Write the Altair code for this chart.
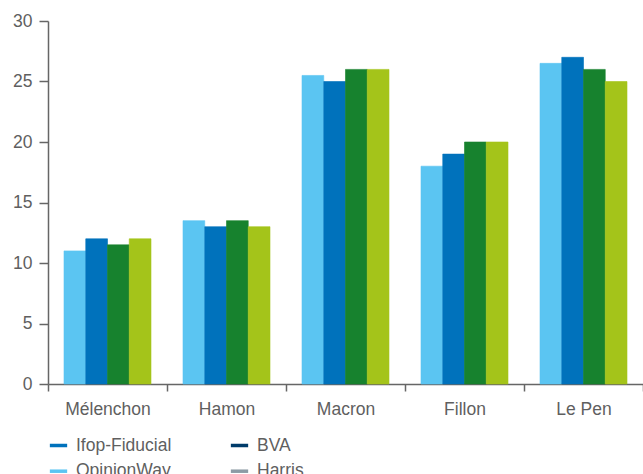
import altair as alt
import pandas as pd

candidates = ["Mélenchon", "Hamon", "Macron", "Fillon", "Le Pen"]
series = ["OpinionWay", "Ifop-Fiducial", "Série 3", "Série 4"]
opinionway = [11, 13.5, 25.5, 18, 26.5]
ifop = [12, 13, 25, 19, 27]
serie3 = [11.5, 13.5, 26, 20, 26]
serie4 = [12, 13, 26, 20, 25]

# legend entries in column order (column 1: Ifop-Fiducial, OpinionWay; column 2: BVA, Harris)
legend_names = ["Ifop-Fiducial", "OpinionWay", "BVA", "Harris"]
color_domain = ["Ifop-Fiducial", "BVA", "OpinionWay", "Harris", "Série 3", "Série 4"]
color_range = ["#0072BC", "#003B6A", "#5BC5F2", "#8C9BA5", "#17822E", "#A4C41A"]
y_ticks = [0, 5, 10, 15, 20, 25, 30]

values_by_series = [opinionway, ifop, serie3, serie4]
rows = []
for s, vals in zip(series, values_by_series):
    for c, v in zip(candidates, vals):
        rows.append({"candidat": c, "institut": s, "valeur": v})
df = pd.DataFrame(rows)

FONT = "Liberation Sans"
TXT = "#5f5f5f"
AX = "#666666"

color_scale = alt.Scale(domain=color_domain, range=color_range)


def make_legend():
    return alt.Legend(
        title=None,
        values=legend_names,
        orient="none",
        legendX=0,
        legendY=414,
        columns=2,
        columnPadding=51,
        rowPadding=6.7,
        symbolType="stroke",
        symbolSize=300,
        symbolStrokeWidth=3.5,
        labelOffset=7,
        labelFont=FONT,
        labelFontSize=17.5,
        labelColor=TXT,
    )


chart = alt.Chart(df).mark_bar(strokeWidth=0.6).encode(
    x=alt.X(
        "candidat:N",
        sort=candidates,
        title=None,
        scale=alt.Scale(paddingInner=0, paddingOuter=0),
        axis=alt.Axis(
            labelAngle=0,
            tickBand="extent",
            tickSize=7,
            labelPadding=9,
            domainColor=AX,
            tickColor=AX,
            domainWidth=1.5,
            tickWidth=1.5,
            labelFont=FONT,
            labelFontSize=17.5,
            labelColor=TXT,
        ),
    ),
    xOffset=alt.XOffset(
        "institut:N", sort=series, scale=alt.Scale(paddingInner=0, paddingOuter=0.736)
    ),
    y=alt.Y(
        "valeur:Q",
        title=None,
        scale=alt.Scale(domain=[0, 30], nice=False),
        axis=alt.Axis(
            values=y_ticks,
            grid=False,
            tickSize=9,
            labelPadding=7,
            domainColor=AX,
            tickColor=AX,
            domainWidth=1.5,
            tickWidth=1.5,
            labelFont=FONT,
            labelFontSize=17.5,
            labelColor=TXT,
        ),
    ),
    fill=alt.Fill("institut:N", scale=color_scale, legend=make_legend()),
    stroke=alt.Stroke("institut:N", scale=color_scale, legend=make_legend()),
).properties(
    width=595,
    height=363,
    autosize=alt.AutoSizeParams(type="none"),
    padding={"left": 48, "top": 21, "right": 0, "bottom": 90},
).configure_view(stroke=None)

chart.save("out.html", embed_options={"renderer": "svg", "actions": False})
